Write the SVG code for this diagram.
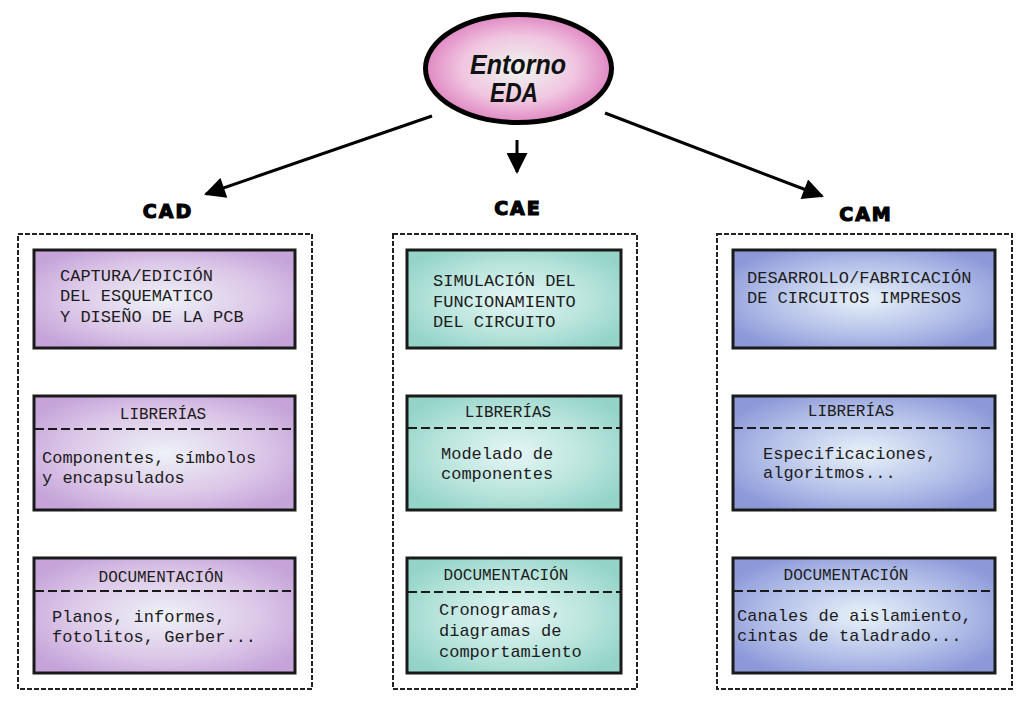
<svg xmlns="http://www.w3.org/2000/svg" width="1032" height="706" viewBox="0 0 1032 706">
<defs>
<radialGradient id="gPink" cx="50%" cy="50%" r="55%"><stop offset="0" stop-color="#eef6f0"/><stop offset="0.55" stop-color="#f0c6e0"/><stop offset="1" stop-color="#dc78bc"/></radialGradient>
<radialGradient id="gCad" cx="50%" cy="50%" r="60%"><stop offset="0" stop-color="#eef2f8"/><stop offset="0.6" stop-color="#dcc8e8"/><stop offset="1" stop-color="#c6a4da"/></radialGradient>
<radialGradient id="gCae" cx="50%" cy="50%" r="60%"><stop offset="0" stop-color="#e6f6f6"/><stop offset="0.6" stop-color="#b8e4dc"/><stop offset="1" stop-color="#94d4c8"/></radialGradient>
<radialGradient id="gCam" cx="50%" cy="50%" r="60%"><stop offset="0" stop-color="#e8f2fa"/><stop offset="0.6" stop-color="#b4c0e8"/><stop offset="1" stop-color="#8c98d8"/></radialGradient>
<marker id="ah" viewBox="0 0 10 10" refX="9" refY="5" markerWidth="8" markerHeight="7" markerUnits="strokeWidth" orient="auto"><path d="M0,0 L10,5 L0,10 z" fill="#000"/></marker>
<style>
.cont{fill:none;stroke:#222;stroke-width:2;stroke-dasharray:5 2}
.box{stroke:#1a1a1a;stroke-width:3}
.sep{stroke:#1a1a1a;stroke-width:2;stroke-dasharray:9 4}
.t{font-family:"Liberation Mono","Courier New",monospace;font-size:17px;fill:#1c1c1c}
.h{font-family:"Liberation Mono","Courier New",monospace;font-size:16px;fill:#1c1c1c;text-anchor:middle}
.lbl{font-family:"DejaVu Sans",Arial,sans-serif;font-weight:bold;font-size:19px;letter-spacing:2px;fill:#000;stroke:#000;stroke-width:1.2;text-anchor:middle}
.conn{stroke:#000;stroke-width:3;fill:none}
.big{font-family:"Liberation Sans",Arial,sans-serif;font-style:italic;font-weight:bold;font-size:28px;fill:#111;text-anchor:middle}
</style>
</defs>
<rect width="1032" height="706" fill="#fff"/>

<g id="connectors">
<line class="conn" x1="432" y1="116" x2="206" y2="194" marker-end="url(#ah)"/>
<line class="conn" x1="517" y1="140" x2="517" y2="172" marker-end="url(#ah)"/>
<line class="conn" x1="605" y1="113" x2="822" y2="196" marker-end="url(#ah)"/>
</g>

<g id="entorno">
<ellipse cx="518.5" cy="68.5" rx="93" ry="54" fill="url(#gPink)" stroke="#000" stroke-width="5"/>
<text class="big" x="518" y="74" textLength="96" lengthAdjust="spacingAndGlyphs">Entorno</text>
<text class="big" x="514" y="102" textLength="48" lengthAdjust="spacingAndGlyphs">EDA</text>
</g>

<g id="cad">
<text class="lbl" x="168" y="218">CAD</text>
<rect class="cont" x="18" y="234" width="294" height="455"/>
<g id="cad-captura">
<rect class="box" x="34" y="250" width="261" height="98" fill="url(#gCad)"/>
<text class="t" x="60" y="281">CAPTURA/EDICIÓN</text>
<text class="t" x="60" y="301">DEL ESQUEMATICO</text>
<text class="t" x="60" y="322">Y DISEÑO DE LA PCB</text>
</g>
<g id="cad-librerias">
<rect class="box" x="34" y="396" width="261" height="114" fill="url(#gCad)"/>
<line class="sep" x1="35" y1="429" x2="294" y2="429"/>
<text class="h" x="163" y="419">LIBRERÍAS</text>
<text class="t" x="42" y="463">Componentes, símbolos</text>
<text class="t" x="42" y="483">y encapsulados</text>
</g>
<g id="cad-doc">
<rect class="box" x="34" y="558" width="261" height="115" fill="url(#gCad)"/>
<line class="sep" x1="35" y1="591" x2="294" y2="591"/>
<text class="h" x="161" y="582">DOCUMENTACIÓN</text>
<text class="t" x="52" y="622">Planos, informes,</text>
<text class="t" x="52" y="642">fotolitos, Gerber...</text>
</g>
</g>

<g id="cae">
<text class="lbl" x="518" y="215">CAE</text>
<rect class="cont" x="393" y="234" width="244" height="455"/>
<g id="cae-sim">
<rect class="box" x="407" y="250" width="214" height="98" fill="url(#gCae)"/>
<text class="t" x="433" y="286">SIMULACIÓN DEL</text>
<text class="t" x="433" y="307">FUNCIONAMIENTO</text>
<text class="t" x="433" y="327">DEL CIRCUITO</text>
</g>
<g id="cae-librerias">
<rect class="box" x="407" y="396" width="214" height="114" fill="url(#gCae)"/>
<line class="sep" x1="408" y1="428" x2="620" y2="428"/>
<text class="h" x="508" y="417">LIBRERÍAS</text>
<text class="t" x="441" y="459">Modelado de</text>
<text class="t" x="441" y="479">componentes</text>
</g>
<g id="cae-doc">
<rect class="box" x="407" y="558" width="214" height="115" fill="url(#gCae)"/>
<line class="sep" x1="408" y1="592" x2="620" y2="592"/>
<text class="h" x="506" y="580">DOCUMENTACIÓN</text>
<text class="t" x="439" y="615">Cronogramas,</text>
<text class="t" x="439" y="636">diagramas de</text>
<text class="t" x="439" y="657">comportamiento</text>
</g>
</g>

<g id="cam">
<text class="lbl" x="866" y="221">CAM</text>
<rect class="cont" x="717" y="234" width="295" height="455"/>
<g id="cam-des">
<rect class="box" x="733" y="250" width="262" height="98" fill="url(#gCam)"/>
<text class="t" x="747" y="283">DESARROLLO/FABRICACIÓN</text>
<text class="t" x="747" y="303">DE CIRCUITOS IMPRESOS</text>
</g>
<g id="cam-librerias">
<rect class="box" x="733" y="396" width="262" height="114" fill="url(#gCam)"/>
<line class="sep" x1="734" y1="428" x2="994" y2="428"/>
<text class="h" x="851" y="416">LIBRERÍAS</text>
<text class="t" x="763" y="459">Especificaciones,</text>
<text class="t" x="763" y="478">algoritmos...</text>
</g>
<g id="cam-doc">
<rect class="box" x="733" y="558" width="262" height="115" fill="url(#gCam)"/>
<line class="sep" x1="734" y1="591" x2="994" y2="591"/>
<text class="h" x="846" y="580">DOCUMENTACIÓN</text>
<text class="t" x="737" y="621">Canales de aislamiento,</text>
<text class="t" x="737" y="641">cintas de taladrado...</text>
</g>
</g>
</svg>
